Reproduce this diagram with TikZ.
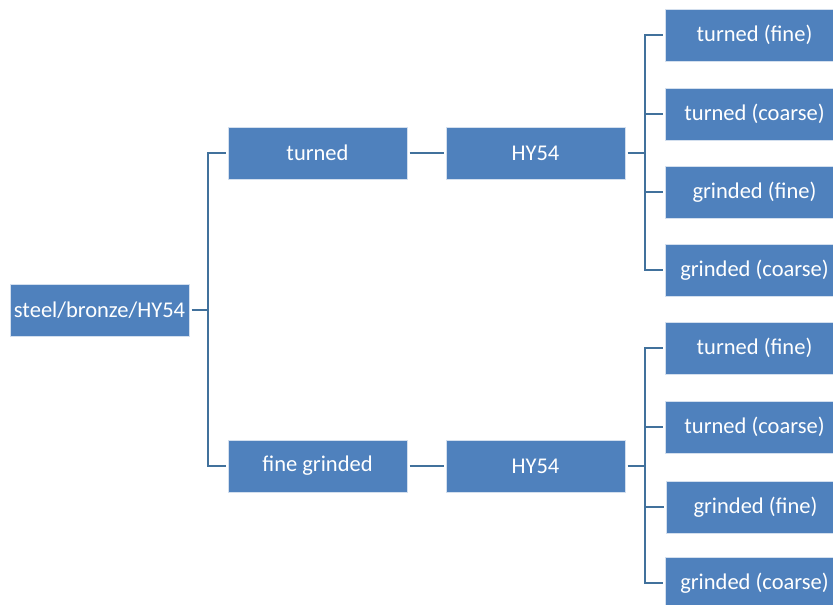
\documentclass[tikz,border=0pt]{standalone}
\usepackage{fontspec}
\setmainfont{Carlito}
\definecolor{boxblue}{HTML}{4F81BD}
\definecolor{lineblue}{HTML}{41719C}
\begin{document}
\begin{tikzpicture}[x=1pt,y=-1pt,
  box/.style={fill=boxblue, draw=white!75!boxblue, line width=0.6pt, minimum width=179pt, minimum height=52pt,
    inner sep=0pt, outer sep=2.5pt, text=white, font=\fontsize{22.5}{26}\selectfont, anchor=north west},
  conn/.style={draw=lineblue, line width=2.5pt, line join=miter}]
\useasboundingbox (0,0) rectangle (833,605);
\begin{scope}[shift={(-2.5,-2.5)}]
\node[box] (root) at (10,284) {steel/bronze/HY54};
\node[box] (tu) at (228,127) {turned};
\node[box] (fg) at (228,440) {fine grinded};
\node[box] (hya) at (446,127) {HY54};
\node[box] (hyb) at (446,440) {HY54};
\node[box] (a1) at (665,9) {turned (fine)};
\node[box] (a2) at (665,88) {turned (coarse)};
\node[box] (a3) at (665,166) {grinded (fine)};
\node[box] (a4) at (665,244) {grinded (coarse)};
\node[box] (b1) at (665,322) {turned (fine)};
\node[box] (b2) at (665,401) {turned (coarse)};
\node[box] (b3) at (666,481) {grinded (fine)};
\node[box] (b4) at (665,557) {grinded (coarse)};
\end{scope}
\coordinate (j1) at (208,310);
\coordinate (j2) at (645,153);
\coordinate (j3) at (645,466);
\draw[conn] (root.east) -- (j1);
\draw[conn] (tu.west) -| (j1) |- (fg.west);
\draw[conn] (tu.east) -- (hya.west);
\draw[conn] (fg.east) -- (hyb.west);
\draw[conn] (hya.east) -- (j2);
\draw[conn] (hyb.east) -- (j3);
\draw[conn] (a1.west) -| (j2) |- (a4.west);
\draw[conn] (j2) |- (a2.west);
\draw[conn] (j2) |- (a3.west);
\draw[conn] (b1.west) -| (j3) |- (b4.west);
\draw[conn] (j3) |- (b2.west);
\draw[conn] (j3) |- (b3.west);
\end{tikzpicture}
\end{document}
